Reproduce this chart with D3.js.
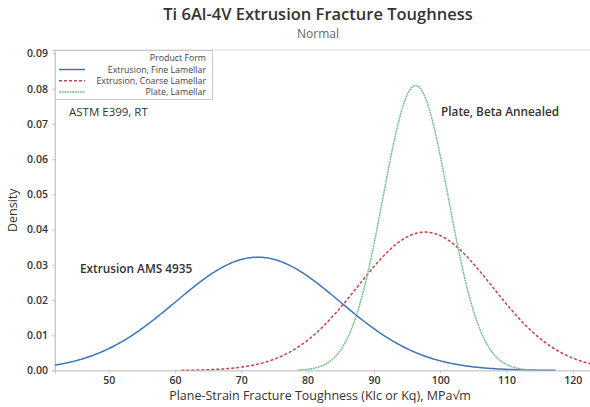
<!DOCTYPE html>
<html>
<head>
<meta charset="utf-8">
<script src="https://cdn.jsdelivr.net/npm/d3@7"></script>
<style>
  body { margin: 0; background: #fff; }
  svg { display: block; font-family: "Open Sans", "Noto Sans", sans-serif; }
</style>
</head>
<body>
<svg id="chart" width="590" height="407"></svg>
<script>
// Fitted normal distributions of KIc by product form
const seriesNames = ["Extrusion, Fine Lamellar", "Extrusion, Coarse Lamellar", "Plate, Lamellar"];
const seriesMeans = [72.5, 97.7, 96.3];
const seriesStdevs = [12.4, 10.15, 4.93];
const seriesColors = ["#3f74b8", "#c4424a", "#7cc08e"];
const seriesDash = [null, "3,2", "2,0.6"];

const xTicks = [50, 60, 70, 80, 90, 100, 110, 120];
const yTicks = [0, 0.01, 0.02, 0.03, 0.04, 0.05, 0.06, 0.07, 0.08, 0.09];

const svg = d3.select("#chart");
const plot = { left: 55, right: 590, top: 50, bottom: 370.5 };

const x = d3.scaleLinear().domain([41.9, 122.6]).range([plot.left, plot.right]);
const y = d3.scaleLinear().domain([0, 0.091]).range([plot.bottom, plot.top]);

// Title block
svg.append("text").attr("x", 318).attr("y", 20).attr("text-anchor", "middle")
  .attr("font-size", 16.5).attr("font-weight", 600).attr("fill", "#333")
  .text("Ti 6Al-4V Extrusion Fracture Toughness");
svg.append("text").attr("x", 318).attr("y", 38).attr("text-anchor", "middle")
  .attr("font-size", 12).attr("fill", "#666").text("Normal");

// Plot frame
svg.append("rect").attr("x", plot.left).attr("y", plot.top)
  .attr("width", plot.right - plot.left + 2).attr("height", plot.bottom - plot.top)
  .attr("fill", "none").attr("stroke", "#d8d8d8").attr("stroke-width", 1);

// Axes
const xAxis = d3.axisBottom(x).tickValues(xTicks).tickSize(3).tickPadding(3).tickFormat(d3.format("d"));
const gx = svg.append("g").attr("transform", `translate(0,${plot.bottom})`).call(xAxis);
const yAxis = d3.axisLeft(y).tickValues(yTicks).tickSize(3).tickPadding(4).tickFormat(d3.format(".2f"));
const gy = svg.append("g").attr("transform", `translate(${plot.left},0)`).call(yAxis);
[gx, gy].forEach(g => {
  g.select(".domain").attr("stroke", "#c8c8c8");
  g.selectAll(".tick line").attr("stroke", "#c8c8c8");
  g.selectAll(".tick text").attr("fill", "#333").attr("font-size", 10.5).attr("font-weight", 600)
    .attr("font-family", "'Open Sans', 'Noto Sans', sans-serif");
});

// Axis titles
svg.append("text").attr("x", 320).attr("y", 400).attr("text-anchor", "middle")
  .attr("font-size", 12.5).attr("fill", "#333")
  .text("Plane-Strain Fracture Toughness (KIc or Kq), MPa√m");
svg.append("text").attr("transform", `translate(17,${(plot.top + plot.bottom) / 2}) rotate(-90)`)
  .attr("text-anchor", "middle").attr("font-size", 12.5).attr("fill", "#333").text("Density");

// Density curves
const normalPdf = (v, m, s) => Math.exp(-0.5 * ((v - m) / s) ** 2) / (s * Math.sqrt(2 * Math.PI));
svg.append("clipPath").attr("id", "plotClip").append("rect")
  .attr("x", plot.left).attr("y", plot.top - 5).attr("width", plot.right - plot.left).attr("height", plot.bottom - plot.top + 5);
const line = d3.line().x(d => x(d[0])).y(d => y(d[1]));
const curves = svg.append("g").attr("clip-path", "url(#plotClip)");
seriesNames.forEach((name, i) => {
  const m = seriesMeans[i], s = seriesStdevs[i];
  const lo = m - 3.62 * s, hi = m + 3.62 * s;
  const pts = d3.range(0, 401).map(k => {
    const v = lo + (hi - lo) * k / 400;
    return [v, normalPdf(v, m, s)];
  });
  curves.append("path").datum(pts).attr("d", line)
    .attr("fill", "none").attr("stroke", seriesColors[i]).attr("stroke-width", 1.5)
    .attr("stroke-dasharray", seriesDash[i]);
});

// Legend
const lg = svg.append("g");
lg.append("rect").attr("x", plot.left + 0.5).attr("y", plot.top + 0.5).attr("width", 157).attr("height", 49)
  .attr("fill", "#fff").attr("stroke", "#c8c8c8");
lg.append("text").attr("x", 206).attr("y", 60.5).attr("text-anchor", "end")
  .attr("font-size", 8.8).attr("fill", "#444").text("Product Form");
seriesNames.forEach((name, i) => {
  const yy = 69.5 + i * 11.3;
  lg.append("line").attr("x1", 59).attr("x2", 85).attr("y1", yy).attr("y2", yy)
    .attr("stroke", seriesColors[i]).attr("stroke-width", 1.5).attr("stroke-dasharray", seriesDash[i]);
  lg.append("text").attr("x", 206).attr("y", yy + 3).attr("text-anchor", "end")
    .attr("font-size", 8.8).attr("fill", "#444").text(name);
});

// Annotations
svg.append("text").attr("x", 69).attr("y", 116).attr("font-size", 11.5).attr("fill", "#333")
  .text("ASTM E399, RT");
svg.append("text").attr("x", 441).attr("y", 116).attr("font-size", 11.8).attr("font-weight", 600).attr("fill", "#333")
  .text("Plate, Beta Annealed");
svg.append("text").attr("x", 80).attr("y", 273).attr("font-size", 11.8).attr("font-weight", 600).attr("fill", "#333")
  .text("Extrusion AMS 4935");
</script>
</body>
</html>
